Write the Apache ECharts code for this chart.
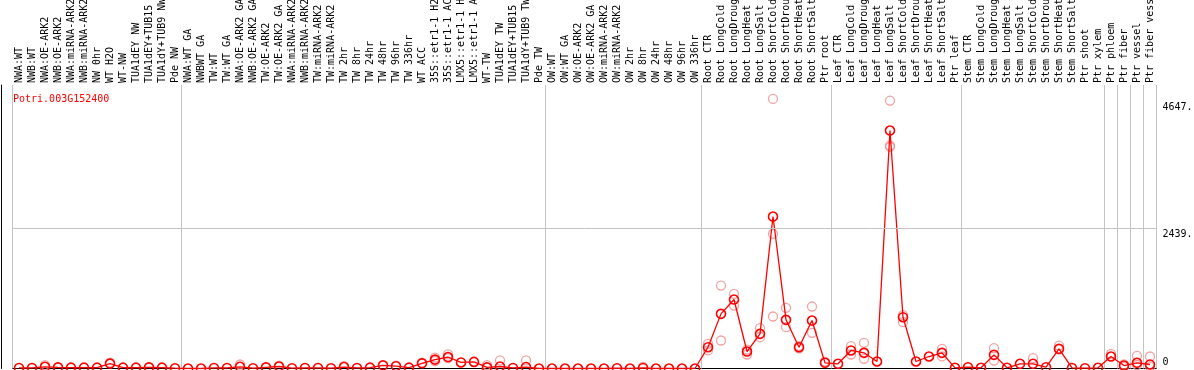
<!DOCTYPE html>
<html><head><meta charset="utf-8">
<script src="https://cdn.jsdelivr.net/npm/echarts@6/dist/echarts.min.js"></script>
<style>html,body{margin:0;padding:0;background:#fff}#c{width:1194px;height:370px}</style>
</head><body><div id="c"></div>
<script>
const geneId = "Potri.003G152400";

const groupNW = ["NWA:WT","NWB:WT","NWA:OE-ARK2","NWB:OE-ARK2","NWA:miRNA-ARK2","NWB:miRNA-ARK2","NW 0hr","WT H2O","WT-NW","TUA1dEY NW","TUA1dEY+TUB15 NW","TUA1dY+TUB9 NW","Pde NW"];
const groupTW = ["NWA:WT GA","NWBWT GA","TW:WT","TW:WT GA","NWA:OE-ARK2 GA","NWB:OE-ARK2 GA","TW:OE-ARK2","TW:OE-ARK2 GA","NWA:miRNA-ARK2 GA","NWB:miRNA-ARK2 GA","TW:miRNA-ARK2","TW:miRNA-ARK2 GA","TW 2hr","TW 8hr","TW 24hr","TW 48hr","TW 96hr","TW 336hr","WT ACC","35S::etr1-1 H2O","35S::etr1-1 ACC","LMX5::etr1-1 H2O","LMX5::etr1-1 ACC","WT-TW","TUA1dEY TW","TUA1dEY+TUB15 TW","TUA1dY+TUB9 TW","Pde TW"];
const groupOW = ["OW:WT","OW:WT GA","OW:OE-ARK2","OW:OE-ARK2 GA","OW:miRNA-ARK2","OW:miRNA-ARK2 GA","OW 2hr","OW 8hr","OW 24hr","OW 48hr","OW 96hr","OW 336hr"];
const groupRoot = ["Root CTR","Root LongCold","Root LongDrought","Root LongHeat","Root LongSalt","Root ShortCold","Root ShortDrought","Root ShortHeat","Root ShortSalt","Ptr root"];
const groupLeaf = ["Leaf CTR","Leaf LongCold","Leaf LongDrought","Leaf LongHeat","Leaf LongSalt","Leaf ShortCold","Leaf ShortDrought","Leaf ShortHeat","Leaf ShortSalt","Ptr leaf"];
const groupStem = ["Stem CTR","Stem LongCold","Stem LongDrought","Stem LongHeat","Stem LongSalt","Stem ShortCold","Stem ShortDrought","Stem ShortHeat","Stem ShortSalt","Ptr shoot","Ptr xylem"];
const groupPtr = ["Ptr phloem","Ptr fiber","Ptr vessel","Ptr fiber vessel"];

const valuesNW = [10,10,30,20,15,15,15,85,15,15,20,15,5];
const valuesTW = [0,0,10,10,30,5,20,35,5,10,10,5,25,10,15,55,40,15,90,155,200,105,115,20,35,10,25,0];
const valuesOW = [0,0,0,0,0,5,0,10,0,0,0,0];
const valuesRoot = [371,952,1202,296,604,2648,848,371,836,99];
const valuesLeaf = [82,314,273,122,4146,894,122,209,273,12];
const valuesStem = [23,12,238,12,82,82,23,343,10,5,12];
const valuesPtr = [209,52,99,70];

// replicate samples: [category index, value]
const replicates = [
  [2,60],[7,100],[17,70],[20,50],[25,40],[29,50],[31,100],[32,190],[32,130],[33,245],[33,180],
  [36,60],[37,140],[39,140],[48,30],
  [53,315],[53,430],[54,1445],[54,488],[55,1300],[55,1097],[56,244],[56,330],[57,703],[57,546],
  [58,4698],[58,2346],[58,906],[59,1057],[59,720],[60,390],[60,350],[61,1080],[61,622],[62,120],
  [64,389],[64,244],[65,447],[65,169],[67,4669],[67,3885],[67,3860],[68,807],[68,930],
  [71,343],[71,210],[75,354],[75,139],[78,180],[80,400],[80,330],
  [84,256],[85,70],[85,30],[86,221],[86,60],[87,209],[87,30]
];

const groupStarts = [0,13,41,53,63,73,84,85,86,87];
const yTickValues = [0,2439,4647];
const yTickLabels = ["0","2439.","4647."];
const yMax = 4940;

const categories = [].concat(groupNW, groupTW, groupOW, groupRoot, groupLeaf, groupStem, groupPtr);
const meanValues = [].concat(valuesNW, valuesTW, valuesOW, valuesRoot, valuesLeaf, valuesStem, valuesPtr);

const FONT = 'DejaVu Sans Mono';
const GRAY = '#c4c4c4';
const isBoundary = (i) => groupStarts.indexOf(i) >= 0;

const chart = echarts.init(document.getElementById('c'), null, {renderer: 'canvas'});
chart.setOption({
  animation: false,
  backgroundColor: '#fff',
  title: {
    text: geneId, left: 8, top: 89,
    textStyle: {color: '#ff0000', fontFamily: FONT, fontSize: 10, fontWeight: 'normal'}
  },
  grid: {left: 12.5, right: 37.5, top: 85, bottom: 1.5, containLabel: false, outerBoundsMode: 'none'},
  xAxis: [
    {
      type: 'category', position: 'top', data: categories, boundaryGap: true,
      axisLine: {show: true, lineStyle: {color: '#000', width: 1}},
      axisTick: {show: true, length: 85, interval: isBoundary, lineStyle: {color: GRAY, width: 1}},
      axisLabel: {show: true, interval: 0, rotate: 90, margin: 2, color: '#000', fontFamily: FONT, fontSize: 10, hideOverlap: false},
      splitLine: {show: true, interval: isBoundary, lineStyle: {color: GRAY, width: 1}}
    },
    {
      type: 'category', position: 'bottom', data: categories, boundaryGap: true,
      axisLine: {show: true, lineStyle: {color: '#000', width: 1}},
      axisTick: {show: false}, axisLabel: {show: false}, splitLine: {show: false}
    }
  ],
  yAxis: [
    {
      type: 'value', position: 'left', offset: 11, min: 0, max: yMax,
      axisLine: {show: true, lineStyle: {color: '#000', width: 1}},
      axisTick: {show: false}, axisLabel: {show: false}, splitLine: {show: false}
    },
    {
      type: 'value', position: 'right', min: 0, max: yMax,
      axisLine: {show: false}, axisTick: {show: false}, splitLine: {show: false},
      axisLabel: {
        show: true, customValues: yTickValues, margin: 6, color: '#000',
        fontFamily: FONT, fontSize: 10,
        formatter: (v) => {
          const i = yTickValues.indexOf(v);
          const t = i >= 0 ? yTickLabels[i] : '';
          return v === 0 ? '{lo|' + t + '}' : '{hi|' + t + '}';
        },
        rich: {
          lo: {fontFamily: FONT, fontSize: 10, color: '#000', padding: [0,0,13,0]},
          hi: {fontFamily: FONT, fontSize: 10, color: '#000', padding: [12,0,0,0]}
        }
      }
    }
  ],
  series: [
    {
      type: 'scatter', xAxisIndex: 0, yAxisIndex: 0, z: 2,
      data: replicates.map(r => [categories[r[0]], r[1]]),
      symbol: 'circle', symbolSize: 9,
      itemStyle: {color: 'rgba(0,0,0,0)', borderColor: '#ee8c8c', borderWidth: 1.3},
      silent: true
    },
    {
      type: 'line', xAxisIndex: 0, yAxisIndex: 0, z: 3,
      data: meanValues,
      symbol: 'circle', symbolSize: 9, showAllSymbol: true,
      lineStyle: {color: '#ff0000', width: 1.3},
      itemStyle: {color: 'rgba(0,0,0,0)', borderColor: '#ff0000', borderWidth: 1.6},
      markLine: {
        silent: true, symbol: 'none', label: {show: false},
        lineStyle: {color: GRAY, type: 'solid', width: 1},
        data: [{yAxis: yTickValues[1]}]
      }
    }
  ]
});
</script>
</body></html>
